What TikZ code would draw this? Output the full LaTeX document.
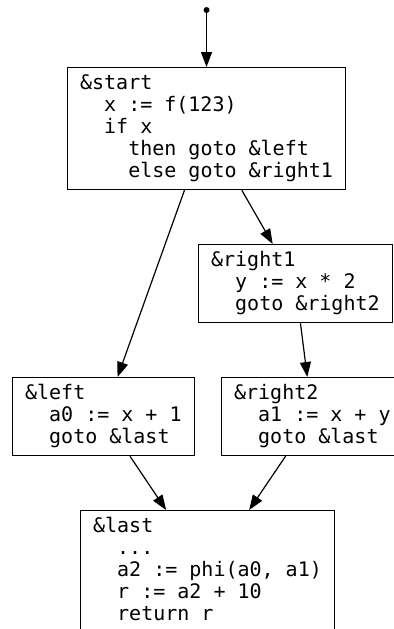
\documentclass[tikz,border=0pt]{standalone}
\usepackage{fontspec}
\setmonofont{DejaVu Sans Mono}
\usetikzlibrary{arrows.meta}

\newcommand{\ind}[1]{\strut\hspace*{#1\fontcharwd\font`x}}

\begin{document}
\begin{tikzpicture}[x = 0.5pt, y = -0.5pt,
        block/.style = {draw, line width = 0.6pt, anchor = north west, align = left,
            inner xsep = 6.25pt, inner ysep = 3pt, font = \ttfamily\fontsize{10}{11}\selectfont},
        flow/.style = {-{Triangle[length = 7.5pt, width = 5.5pt]}, line width = 0.6pt}]
        \useasboundingbox (0,0) rectangle (394,629);

        \node[block] (start) at (67,67) {\ind{0}\&start\\
            \ind{2}x := f(123)\\
            \ind{2}if x\\
            \ind{4}then goto \&left\\
            \ind{4}else goto \&right1};
        \node[circle, fill, inner sep = 0pt, minimum size = 3pt] (entry) at (start.north |- 0,10) {};
        \node[block] (right1) at (198,244) {\ind{0}\&right1\\
            \ind{2}y := x * 2\\
            \ind{2}goto \&right2};
        \node[block] (left) at (12,377) {\ind{0}\&left\\
            \ind{2}a0 := x + 1\\
            \ind{2}goto \&last};
        \node[block] (right2) at (221,377) {\ind{0}\&right2\\
            \ind{2}a1 := x + y\\
            \ind{2}goto \&last};
        \node[block] (last) at (80,510) {\ind{0}\&last\\
            \ind{2}...\\
            \ind{2}a2 := phi(a0, a1)\\
            \ind{2}r := a2 + 10\\
            \ind{2}return r};

        \draw[flow] (entry) -- (start);
        \draw[flow] (start) -- (left);
        \draw[flow] (start) -- (right1);
        \draw[flow] (right1) -- (right2);
        \draw[flow] (left) -- (last);
        \draw[flow] (right2) -- (last);
    \end{tikzpicture}
\end{document}
